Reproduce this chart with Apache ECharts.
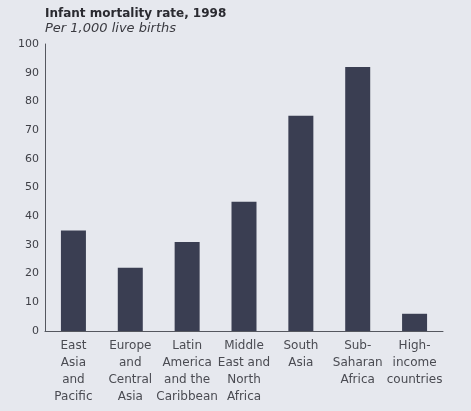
<!DOCTYPE html>
<html>
<head>
<meta charset="utf-8">
<script src="https://cdn.jsdelivr.net/npm/echarts@6/dist/echarts.min.js"></script>
<style>
  html, body { margin: 0; padding: 0; background: #e6e8ee; }
  #chart { width: 471px; height: 411px; }
</style>
</head>
<body>
<div id="chart"></div>
<script>
// data
var regions = [
  'East\nAsia\nand\nPacific',
  'Europe\nand\nCentral\nAsia',
  'Latin\nAmerica\nand the\nCaribbean',
  'Middle\nEast and\nNorth\nAfrica',
  'South\nAsia',
  'Sub-\nSaharan\nAfrica',
  'High-\nincome\ncountries'
]
var mortality = [35, 22, 31, 45, 75, 92, 6]
var yTicks = [0, 100, 10] // min, max, step

var chart = echarts.init(document.getElementById('chart'))
var option = {
  backgroundColor: '#e6e8ee',
  animation: false,
  title: {
    text: 'Infant mortality rate, 1998',
    subtext: 'Per 1,000 live births',
    left: 40,
    top: 3,
    itemGap: 2,
    textStyle: {
      fontFamily: 'DejaVu Sans',
      fontSize: 12,
      fontWeight: 'bold',
      color: '#2a2a30'
    },
    subtextStyle: {
      fontFamily: 'DejaVu Sans',
      fontSize: 13,
      fontStyle: 'italic',
      color: '#3a3a40'
    }
  },
  grid: {
    left: 45,
    right: 28,
    top: 44,
    bottom: 80,
    containLabel: false
  },
  xAxis: {
    type: 'category',
    data: regions,
    axisLine: { show: true, lineStyle: { color: '#55575f', width: 1 } },
    axisTick: { show: false },
    axisLabel: {
      interval: 0,
      color: '#4a4b52',
      fontFamily: 'DejaVu Sans',
      fontSize: 12,
      lineHeight: 17,
      margin: 6,
      align: 'center'
    }
  },
  yAxis: {
    type: 'value',
    min: yTicks[0],
    max: yTicks[1],
    interval: yTicks[2],
    splitLine: { show: false },
    axisTick: { show: false },
    axisLine: { show: true, lineStyle: { color: '#55575f', width: 1 } },
    axisLabel: {
      color: '#3e3f46',
      fontFamily: 'DejaVu Sans',
      fontSize: 11,
      margin: 6
    }
  },
  series: [{
    type: 'bar',
    data: mortality,
    barWidth: 25,
    itemStyle: { color: '#3a3e52' }
  }]
}
chart.setOption(option)
</script>
</body>
</html>
